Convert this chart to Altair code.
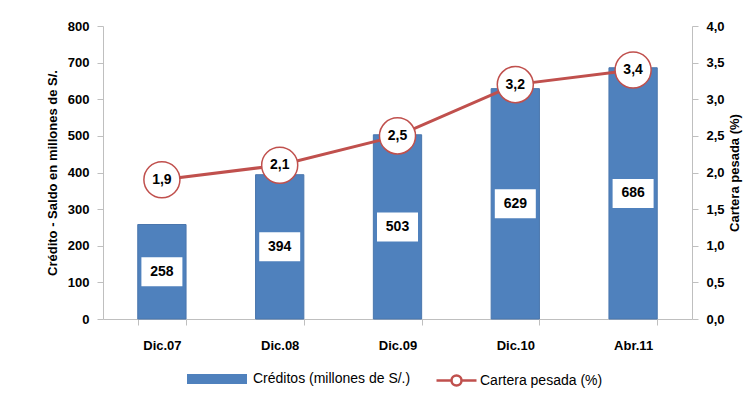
import altair as alt
import pandas as pd

cats = ["Dic.07", "Dic.08", "Dic.09", "Dic.10", "Abr.11"]
creditos = [258, 394, 503, 629, 686]
cartera = [1.9, 2.1, 2.5, 3.2, 3.4]
left_ticks = [0, 100, 200, 300, 400, 500, 600, 700, 800]
right_ticks = [0, 0.5, 1.0, 1.5, 2.0, 2.5, 3.0, 3.5, 4.0]
s_bar = "Créditos (millones de S/.)"
s_line = "Cartera pesada (%)"

df = pd.DataFrame({
    "cat": cats,
    "creditos": creditos,
    "half": [v / 2 for v in creditos],
    "cartera": cartera,
    "clbl": [f"{v:.1f}".replace(".", ",") for v in cartera],
    "s1": [s_bar] * 5,
    "s2": [s_line] * 5,
})

FONT = "Liberation Sans"
BLUE = "#4f81bd"
RED = "#c0504d"
GRAY = "#bfbfbf"

xenc = alt.X("cat:N", sort=cats,
             scale=alt.Scale(paddingInner=0.59, paddingOuter=0.295),
             axis=alt.Axis(title=None, labelAngle=0, tickBand="extent",
                           domainColor=GRAY, tickColor=GRAY, tickSize=6,
                           labelFont=FONT, labelFontWeight="bold", labelFontSize=13,
                           labelColor="#000", labelPadding=14))

scaleL = alt.Scale(domain=[0, 800], nice=False)
axisL = alt.Axis(title="Crédito - Saldo en millones de S/.", values=left_ticks, grid=False,
                 domainColor=GRAY, tickColor=GRAY, tickSize=6, labelPadding=8,
                 labelFont=FONT, labelFontWeight="bold", labelFontSize=13, labelColor="#000",
                 titleFont=FONT, titleFontWeight="bold", titleFontSize=13, titleColor="#000",
                 titlePadding=8)

def yL(field):
    return alt.Y(field, type="quantitative", scale=scaleL, axis=axisL)

scaleR = alt.Scale(domain=[0, 4], nice=False)
axisR = alt.Axis(title="Cartera pesada (%)", orient="right", values=right_ticks, grid=False,
                 labelExpr="replace(format(datum.value, '.1f'), '.', ',')",
                 domainColor=GRAY, tickColor=GRAY, tickSize=6, labelPadding=8,
                 labelFont=FONT, labelFontWeight="bold", labelFontSize=13, labelColor="#000",
                 titleFont=FONT, titleFontWeight="bold", titleFontSize=13, titleColor="#000",
                 titleAngle=270, titleBaseline="top", titlePadding=4)

def yR(field):
    return alt.Y(field, type="quantitative", scale=scaleR, axis=axisR)

base = alt.Chart(df)

bars = base.mark_bar(stroke="#4a76ad", strokeWidth=1).encode(
    x=xenc, y=yL("creditos"),
    color=alt.Color("s1:N", scale=alt.Scale(domain=[s_bar], range=[BLUE]),
                    legend=alt.Legend(title=None, orient="none", legendX=84, legendY=323,
                                      symbolType="M-1,-0.17H1V0.17H-1Z", symbolSize=3600,
                                      symbolStrokeWidth=0,
                                      labelFont=FONT, labelFontSize=14, labelColor="#000",
                                      labelOffset=6)))

boxes = base.mark_point(shape="M-3.9,-2.7H3.9V2.7H-3.9Z", size=100, filled=True,
                        fill="white", opacity=1, stroke="#ffffff").encode(
    x=xenc, y=yL("half"))

btext = base.mark_text(font=FONT, fontWeight="bold", fontSize=14, color="#000").encode(
    x=xenc, y=yL("half"), text="creditos:Q")

left = alt.layer(bars, boxes, btext)

line = base.mark_line(strokeWidth=3).encode(
    x=xenc, y=yR("cartera"),
    stroke=alt.Stroke("s2:N", scale=alt.Scale(domain=[s_line], range=[RED]),
                      legend=alt.Legend(title=None, orient="none", legendX=332, legendY=333,
                                        symbolType="M-1,0H-0.25M0.25,0H1M0.25,0A0.25,0.25 0 1,1 -0.25,0A0.25,0.25 0 1,1 0.25,0",
                                        symbolSize=1600, symbolStrokeWidth=2.5,
                                        symbolFillColor="white",
                                        labelFont=FONT, labelFontSize=14, labelColor="#000",
                                        labelOffset=2)))

circles = base.mark_point(shape="circle", size=1300, filled=True, fill="white",
                          stroke=RED, strokeWidth=1.5, opacity=1).encode(
    x=xenc, y=yR("cartera"))

ltext = base.mark_text(font=FONT, fontWeight="bold", fontSize=14, color="#000").encode(
    x=xenc, y=yR("cartera"), text="clbl:N")

right = alt.layer(line, circles, ltext)

chart = alt.layer(left, right).resolve_scale(y="independent").properties(
    width=589, height=293,
    padding={"left": 38, "top": 12, "right": 5, "bottom": 5},
).configure_view(stroke=None)

chart.save("out.html", embed_options={"renderer": "svg", "actions": False})
